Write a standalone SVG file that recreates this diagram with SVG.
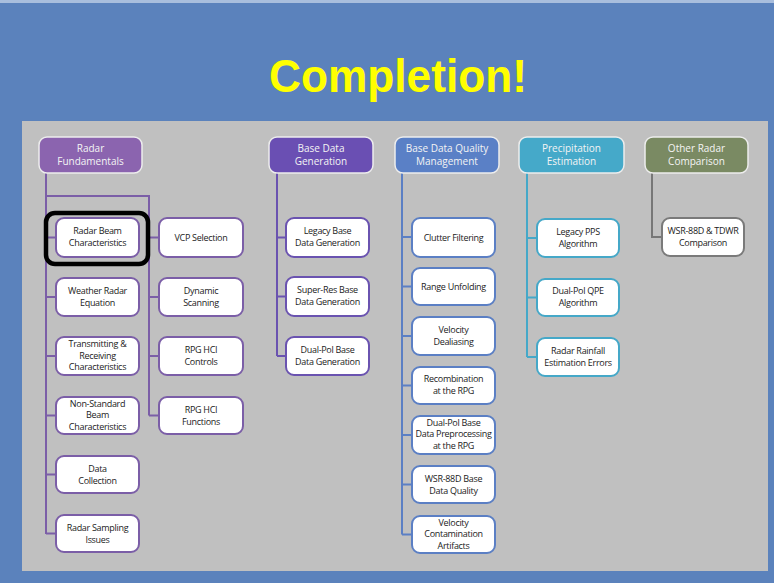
<svg xmlns="http://www.w3.org/2000/svg" width="774" height="583" viewBox="0 0 774 583">
<style>
.hdr rect{stroke:#EDEDED;stroke-width:1.5}
.hdr text{font-family:"Open Sans","Liberation Sans",sans-serif;font-size:10px;fill:#F4F4F4;text-anchor:middle}
.box rect{fill:#FFFFFF;stroke-width:2}
.box text{font-family:"Open Sans","Liberation Sans",sans-serif;font-size:9px;fill:#222222;text-anchor:middle;letter-spacing:-0.3px}
.c1 rect{stroke:#7B5EA7}
.c3 rect{stroke:#6A53B0}
.c4 rect{stroke:#5B7FC4}
.c5 rect{stroke:#45A8C8}
.c6 rect{stroke:#7A7A7A}
#connectors path{fill:none;stroke-width:2}
</style>
<rect x="0" y="0" width="774" height="583" fill="#5B82BC"/>
<rect x="0" y="0" width="774" height="3" fill="#A9BEDD"/>
<rect x="22" y="121" width="746" height="450" fill="#C0C0C0"/>
<text x="398" y="92" font-family="Liberation Sans, Arial, sans-serif" font-size="46" font-weight="bold" fill="#FFFF00" text-anchor="middle" textLength="258" lengthAdjust="spacingAndGlyphs">Completion!</text>

<g id="connectors">
<path stroke="#7B5EA7" d="M46 173V534M46 237.5H56M46 297H56M46 356H56M46 415.5H56M46 474.5H56M46 533.5H56M46 196H149V415.5M149 237.5H159M149 297H159M149 356H159M149 415.5H159"/>
<path stroke="#6A53B0" d="M277 173V356M277 237.5H286M277 296.5H286M277 356H286"/>
<path stroke="#5B7FC4" d="M402 173V534.5M402 237H412M402 286.5H412M402 336H412M402 385.5H412M402 435H412M402 484.5H412M402 534.5H412"/>
<path stroke="#45A8C8" d="M527 173V357M527 238H537M527 297.5H537M527 357H537"/>
<path stroke="#777777" d="M652 173V237H662"/>
</g>

<g id="h-radar-fundamentals" class="hdr"><rect x="39" y="137" width="103" height="36" rx="8" fill="#8B64AF"/><text x="90.5" y="151.5">Radar<tspan x="90.5" dy="13.5">Fundamentals</tspan></text></g>
<g id="h-base-data-generation" class="hdr"><rect x="269" y="137" width="104" height="36" rx="8" fill="#6A4FB3"/><text x="321" y="151.5">Base Data<tspan x="321" dy="13.5">Generation</tspan></text></g>
<g id="h-bdqm" class="hdr"><rect x="395" y="137" width="104" height="36" rx="8" fill="#5A80C6"/><text x="447" y="151.5">Base Data Quality<tspan x="447" dy="13.5">Management</tspan></text></g>
<g id="h-precip" class="hdr"><rect x="519" y="137" width="105" height="36" rx="8" fill="#45A9C9"/><text x="571.5" y="151.5">Precipitation<tspan x="571.5" dy="13.5">Estimation</tspan></text></g>
<g id="h-other" class="hdr"><rect x="645" y="137" width="103" height="36" rx="8" fill="#7A8A63"/><text x="696.5" y="151.5">Other Radar<tspan x="696.5" dy="13.5">Comparison</tspan></text></g>

<g id="n-radar-beam" class="box c1"><rect x="56" y="218" width="83" height="39" rx="8"/><text x="97.5" y="234">Radar Beam<tspan x="97.5" dy="12">Characteristics</tspan></text></g>
<g id="n-weather-radar-eq" class="box c1"><rect x="56" y="278" width="83" height="38" rx="8"/><text x="97.5" y="294">Weather Radar<tspan x="97.5" dy="12">Equation</tspan></text></g>
<g id="n-transmitting" class="box c1"><rect x="56" y="337" width="83" height="38" rx="8"/><text x="97.5" y="347">Transmitting &amp;<tspan x="97.5" dy="11.5">Receiving</tspan><tspan x="97.5" dy="11.5">Characteristics</tspan></text></g>
<g id="n-non-standard" class="box c1"><rect x="56" y="397" width="83" height="37" rx="8"/><text x="97.5" y="406.5">Non-Standard<tspan x="97.5" dy="11.5">Beam</tspan><tspan x="97.5" dy="11.5">Characteristics</tspan></text></g>
<g id="n-data-collection" class="box c1"><rect x="56" y="456" width="83" height="37" rx="8"/><text x="97.5" y="471.5">Data<tspan x="97.5" dy="12">Collection</tspan></text></g>
<g id="n-radar-sampling" class="box c1"><rect x="56" y="515" width="83" height="37" rx="8"/><text x="97.5" y="530.5">Radar Sampling<tspan x="97.5" dy="12">Issues</tspan></text></g>

<g id="n-vcp" class="box c1"><rect x="159" y="218" width="84" height="39" rx="8"/><text x="201" y="240.5">VCP Selection</text></g>
<g id="n-dynamic" class="box c1"><rect x="159" y="278" width="84" height="38" rx="8"/><text x="201" y="294">Dynamic<tspan x="201" dy="12">Scanning</tspan></text></g>
<g id="n-rpg-controls" class="box c1"><rect x="159" y="337" width="84" height="38" rx="8"/><text x="201" y="353">RPG HCI<tspan x="201" dy="12">Controls</tspan></text></g>
<g id="n-rpg-functions" class="box c1"><rect x="159" y="397" width="84" height="37" rx="8"/><text x="201" y="412.5">RPG HCI<tspan x="201" dy="12">Functions</tspan></text></g>

<g id="n-legacy-base" class="box c3"><rect x="286" y="218" width="83" height="39" rx="8"/><text x="327.5" y="234">Legacy Base<tspan x="327.5" dy="12">Data Generation</tspan></text></g>
<g id="n-super-res" class="box c3"><rect x="286" y="277" width="83" height="39" rx="8"/><text x="327.5" y="293">Super-Res Base<tspan x="327.5" dy="12">Data Generation</tspan></text></g>
<g id="n-dual-pol-base" class="box c3"><rect x="286" y="337" width="83" height="38" rx="8"/><text x="327.5" y="353">Dual-Pol Base<tspan x="327.5" dy="12">Data Generation</tspan></text></g>

<g id="n-clutter" class="box c4"><rect x="412" y="218" width="83" height="39" rx="8"/><text x="453.5" y="240.5">Clutter Filtering</text></g>
<g id="n-range" class="box c4"><rect x="412" y="268" width="83" height="37" rx="8"/><text x="453.5" y="289.5">Range Unfolding</text></g>
<g id="n-vel-dealias" class="box c4"><rect x="412" y="317" width="83" height="38" rx="8"/><text x="453.5" y="332.5">Velocity<tspan x="453.5" dy="12">Dealiasing</tspan></text></g>
<g id="n-recombination" class="box c4"><rect x="412" y="367" width="83" height="37" rx="8"/><text x="453.5" y="382">Recombination<tspan x="453.5" dy="12">at the RPG</tspan></text></g>
<g id="n-dual-pol-prep" class="box c4"><rect x="412" y="416" width="83" height="38" rx="8"/><text x="453.5" y="425.5">Dual-Pol Base<tspan x="453.5" dy="11.5">Data Preprocessing</tspan><tspan x="453.5" dy="11.5">at the RPG</tspan></text></g>
<g id="n-wsr-quality" class="box c4"><rect x="412" y="466" width="83" height="37" rx="8"/><text x="453.5" y="481.5">WSR-88D Base<tspan x="453.5" dy="12">Data Quality</tspan></text></g>
<g id="n-vel-contam" class="box c4"><rect x="412" y="516" width="83" height="37" rx="8"/><text x="453.5" y="525.5">Velocity<tspan x="453.5" dy="11.5">Contamination</tspan><tspan x="453.5" dy="11.5">Artifacts</tspan></text></g>

<g id="n-legacy-pps" class="box c5"><rect x="537" y="219" width="82" height="38" rx="8"/><text x="578" y="234.5">Legacy PPS<tspan x="578" dy="12">Algorithm</tspan></text></g>
<g id="n-dual-pol-qpe" class="box c5"><rect x="537" y="279" width="82" height="37" rx="8"/><text x="578" y="294">Dual-Pol QPE<tspan x="578" dy="12">Algorithm</tspan></text></g>
<g id="n-rainfall-errors" class="box c5"><rect x="537" y="338" width="82" height="38" rx="8"/><text x="578" y="354">Radar Rainfall<tspan x="578" dy="12">Estimation Errors</tspan></text></g>

<g id="n-wsr-tdwr" class="box c6"><rect x="662" y="218" width="82" height="38" rx="8"/><text x="703" y="234">WSR-88D &amp; TDWR<tspan x="703" dy="12">Comparison</tspan></text></g>

<rect id="highlight" x="46" y="213" width="102" height="51" rx="9" fill="none" stroke="#000000" stroke-width="4.5"/>
</svg>
